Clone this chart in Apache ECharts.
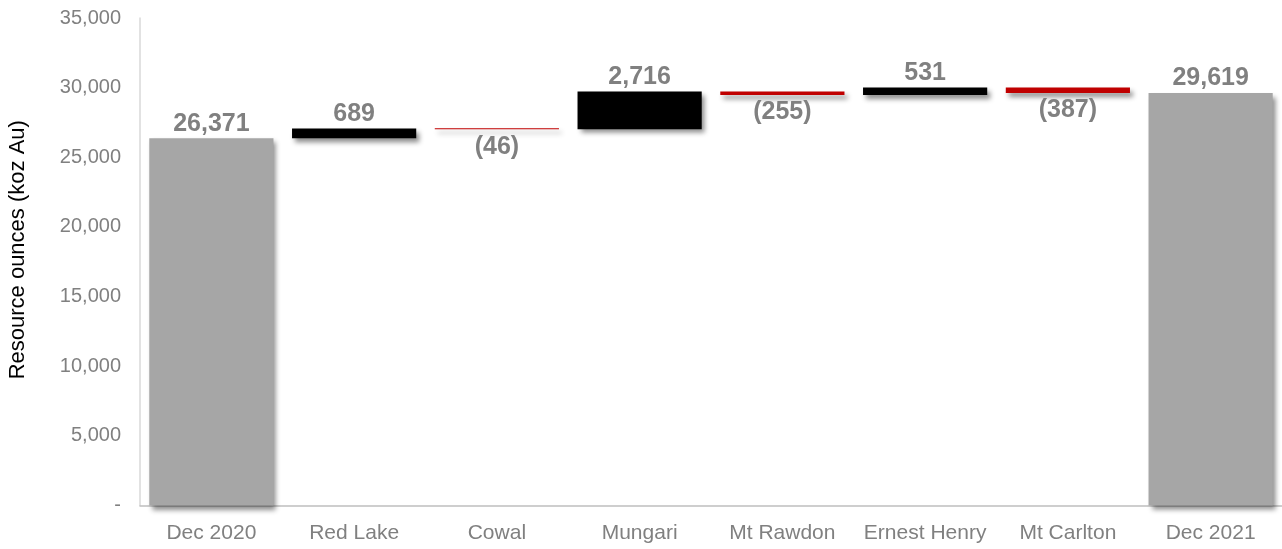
<!DOCTYPE html>
<html>
<head>
<meta charset="utf-8">
<script src="https://cdn.jsdelivr.net/npm/echarts@6/dist/echarts.min.js"></script>
<style>
html,body{margin:0;padding:0;background:#fff;}
#chart{width:1282px;height:549px;}
</style>
</head>
<body>
<div id="chart"></div>
<script>
var categories = ['Dec 2020','Red Lake','Cowal','Mungari','Mt Rawdon','Ernest Henry','Mt Carlton','Dec 2021'];
// 'total' entries are full bars; others are changes
var kinds = ['total','delta','delta','delta','delta','delta','delta','total'];
var values = [26371, 689, -46, 2716, -255, 531, -387, 29619];
var yTicks = [0, 5000, 10000, 15000, 20000, 25000, 30000, 35000];

var baseData = [], barData = [];
var running = 0;
for (var i = 0; i < values.length; i++) {
  var v = values[i];
  if (kinds[i] === 'total') {
    baseData.push(0);
    barData.push({value: v, itemStyle: {color: '#A6A6A6'}, label: {position: 'top'}});
    running = v;
  } else {
    var after = running + v;
    baseData.push(Math.min(running, after));
    barData.push({
      value: Math.abs(v),
      itemStyle: {color: v >= 0 ? '#000000' : '#C00000'},
      label: v >= 0 ? {position: 'top'} : {position: 'bottom', distance: 5}
    });
    running = after;
  }
}

function fmt(n) {
  var s = Math.abs(n).toLocaleString('en-US');
  return n < 0 ? '(' + s + ')' : s;
}

var FONT = 'Liberation Sans, Arial, sans-serif';
var chart = echarts.init(document.getElementById('chart'), null, {renderer: 'canvas'});
chart.setOption({
  animation: false,
  backgroundColor: '#ffffff',
  grid: {left: 140, right: 0, top: 18, bottom: 43.5, containLabel: false, outerBoundsMode: 'none'},
  xAxis: {
    type: 'category',
    data: categories,
    axisLine: {lineStyle: {color: '#BFBFBF', width: 1.5}},
    axisTick: {show: false},
    axisLabel: {interval: 0, color: '#808080', fontSize: 21, fontFamily: FONT, margin: 17}
  },
  yAxis: {
    type: 'value',
    min: yTicks[0],
    max: yTicks[yTicks.length - 1],
    interval: yTicks[1] - yTicks[0],
    name: 'Resource ounces (koz Au)',
    nameLocation: 'middle',
    nameRotate: 90,
    nameGap: 111,
    nameTextStyle: {color: '#000000', fontSize: 22, fontFamily: FONT, padding: [0, 0, 0, 24]},
    axisLine: {show: true, lineStyle: {color: '#D9D9D9', width: 1.5}},
    axisTick: {show: false},
    splitLine: {show: false},
    axisLabel: {
      color: '#808080', fontSize: 20, fontFamily: FONT, margin: 19,
      formatter: function (v) { return v === 0 ? '-' : v.toLocaleString('en-US'); }
    }
  },
  series: [
    {
      type: 'bar', stack: 'w', data: baseData, barWidth: '87%',
      itemStyle: {color: 'transparent'}, silent: true
    },
    {
      type: 'bar', stack: 'w', data: barData, barWidth: '87%', barMinHeight: 1,
      itemStyle: {
        shadowColor: 'rgba(0,0,0,0.45)', shadowBlur: 5, shadowOffsetX: 3, shadowOffsetY: 4
      },
      label: {
        show: true, color: '#808080', fontSize: 25, fontWeight: 'bold',
        fontFamily: FONT, distance: 2,
        formatter: function (p) { return fmt(values[p.dataIndex]); }
      }
    }
  ]
});
</script>
</body>
</html>
